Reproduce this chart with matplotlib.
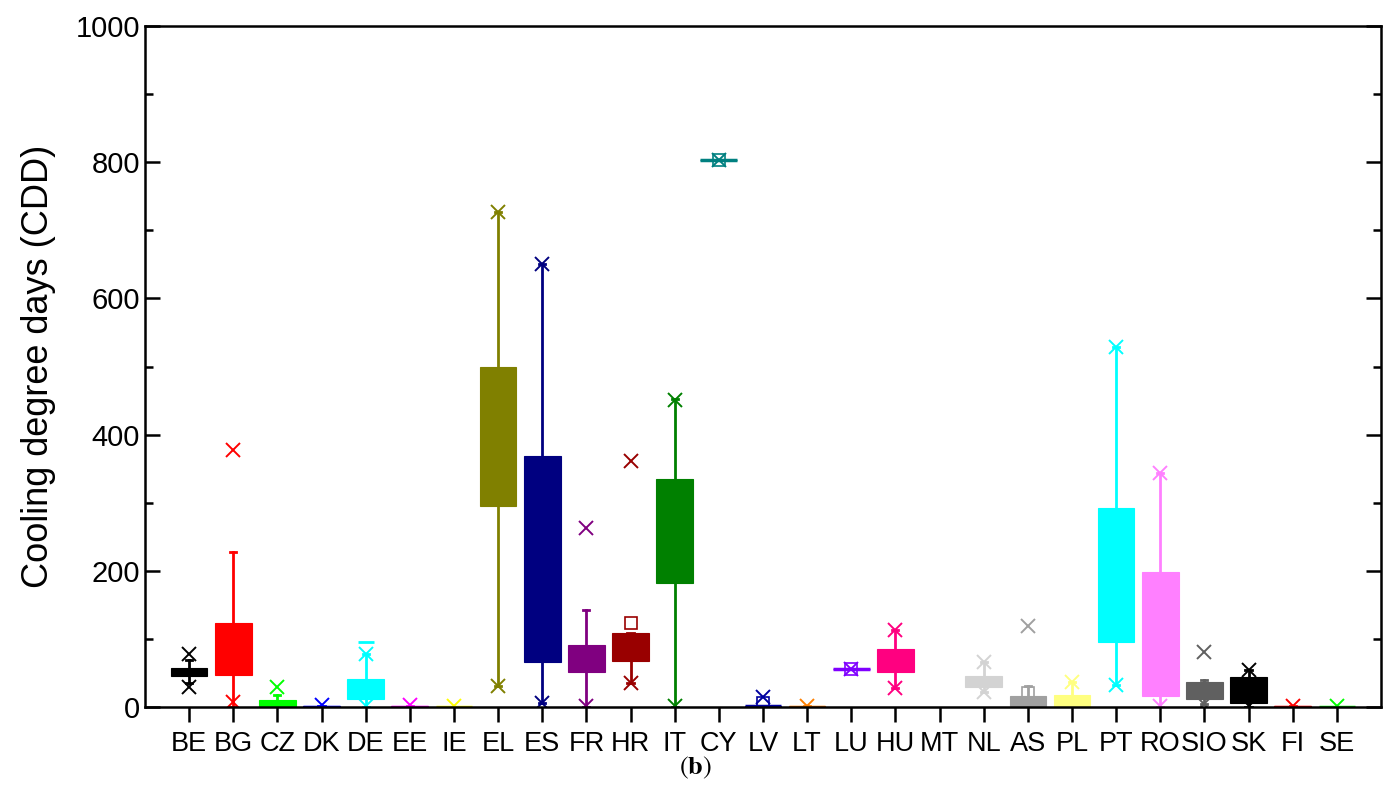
import numpy as np
import matplotlib
matplotlib.use("Agg")
import matplotlib.pyplot as plt

plt.rcParams['font.family'] = ['Liberation Sans', 'DejaVu Sans']
plt.rcParams['mathtext.fontset'] = 'stix'

nan = np.nan

# country codes as printed under the axis
countries = ["BE", "BG", "CZ", "DK", "DE", "EE", "IE", "EL", "ES", "FR", "HR", "IT", "CY", "LV",
             "LT", "LU", "HU", "MT", "NL", "AS", "PL", "PT", "RO", "SIO", "SK", "FI", "SE"]
colors = ["#000000", "#FF0000", "#00FF00", "#0000FF", "#00FFFF", "#FF00FF", "#FFFF00", "#808000",
          "#000080", "#800080", "#990000", "#008000", "#008080", "#0000A0", "#FF8000", "#8000FF",
          "#FF0080", "#FFFFFF", "#D3D3D3", "#A0A0A0", "#FFFF80", "#00FFFF", "#FF80FF", "#606060",
          "#000000", "#FF0000", "#00FF00"]

# box statistics (CDD)
q1 =      [45, 47, 0, 0, 12, 0, 0, 295, 66, 51, 68, 182, 803, 0, 0, 56, 52, nan, 30, 1, 0, 96, 16, 12, 6, 0, 0]
q3 =      [57, 124, 11, 1, 41, 1, 0.5, 500, 368, 91, 108, 335, 803, 2, 1, 56, 85, nan, 46, 16, 18, 292, 198, 37, 44, 1, 0.5]
whis_lo = [35, 0, 0, 0, 0, 0, 0, 31, 6, 0, 35, 0, 803, 0, 0, 56, 28, nan, 22, 1, 0, 32, 0, 5, 0, 0, 0]
whis_hi = [69, 228, 17, 1, 78, 1, 0.5, 727, 650, 142, 108, 453, 803, 2, 1, 56, 113, nan, 66, 31, 37, 529, 343, 40, 54, 1, 0.5]
mark_lo = [29, 8, nan, nan, 2, nan, nan, 31, 6, 2, 35, 2, nan, nan, nan, nan, 28, nan, 22, nan, nan, 32, 1, 5, 1, nan, nan]
mark_hi = [78, 377, 29, 3, 78, 3, 2, 727, 650, 263, 361, 451, 803, 14, 2, 56, 113, nan, 66, 119, 37, 529, 343, 81, 54, 2, 1]
means =   [nan, nan, nan, nan, nan, nan, nan, nan, nan, nan, 123, nan, 803, 6, nan, 56, nan, nan, nan, 21, nan, nan, nan, nan, nan, nan, nan]
max_dash = [nan, nan, nan, nan, 96, nan, nan, nan, nan, nan, nan, nan, nan, nan, nan, nan, nan, nan, nan, nan, nan, nan, nan, nan, nan, nan, nan]

fig = plt.figure(figsize=(13.91, 7.96), dpi=100)
ax = fig.add_axes([0.1042, 0.1118, 0.8886, 0.8555])

pos = np.arange(1, len(countries) + 1)
for i, c in enumerate(colors):
    if np.isnan(q1[i]):
        continue
    st = dict(med=(q1[i] + q3[i]) / 2, q1=q1[i], q3=q3[i],
              whislo=whis_lo[i], whishi=whis_hi[i], fliers=[])
    ax.bxp([st], positions=[pos[i]], widths=0.83, patch_artist=True, showfliers=False,
           capwidths=0.14,
           boxprops=dict(facecolor=c, edgecolor=c, linewidth=0.8),
           medianprops=dict(color=c, linewidth=2.5),
           whiskerprops=dict(color=c, linewidth=2),
           capprops=dict(color=c, linewidth=2))
    # 1% / 99% crosses, mean square, max dash
    for v in (mark_lo[i], mark_hi[i]):
        if not np.isnan(v):
            ax.plot(pos[i], v, 'x', color=c, ms=10, mew=1.4)
    if not np.isnan(means[i]):
        ax.plot(pos[i], means[i], 's', mfc='none', mec=c, ms=8, mew=1.2)
    if not np.isnan(max_dash[i]):
        ax.plot(pos[i], max_dash[i], '_', color=c, ms=12, mew=2)

ax.set_xlim(0, 28)
ax.set_ylim(0, 1000)
ax.set_xticks(pos)
ax.set_xticklabels(countries, fontsize=19.5)
ax.set_yticks(np.arange(0, 1001, 200))
ax.set_yticks(np.arange(100, 1000, 200), minor=True)
ax.tick_params(axis='y', labelsize=21)
ax.tick_params(axis='x', which='major', direction='out', length=11, width=1.8, pad=6)
ax.tick_params(axis='x', which='minor', bottom=False)
ax.tick_params(axis='y', which='major', direction='in', length=11, width=1.8, right=True)
ax.tick_params(axis='y', which='minor', direction='in', length=6, width=1.8, right=True)
for s in ax.spines.values():
    s.set_linewidth(1.8)
ax.set_ylabel("Cooling degree days (CDD)", fontsize=26, labelpad=14)

fig.text(0.5, 0.035, r"$(\mathbf{b})$", ha='center', va='center', fontsize=19)

fig.savefig("out.png", dpi=100)
